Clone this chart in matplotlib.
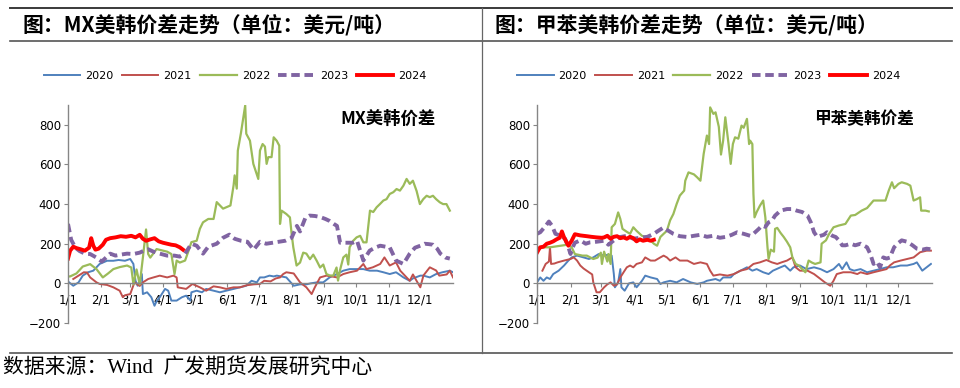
import matplotlib
matplotlib.use('Agg')
import matplotlib.pyplot as plt
import numpy as np
from matplotlib.lines import Line2D

W, H = 960, 388

YEARS = ['2020', '2021', '2022', '2023', '2024']
MONTH_DAYS = [0, 31, 59, 90, 120, 151, 181, 212, 243, 273, 304, 334]
MONTH_LABELS = ['1/1', '2/1', '3/1', '4/1', '5/1', '6/1', '7/1', '8/1', '9/1', '10/1', '11/1', '12/1']
Y_TICKS = [-200, 0, 200, 400, 600, 800]

# ---- MX (day of year, usd/t) ----
mx_2020 = [(0, 10), (1, 5), (5, -12), (10, 5), (14, 39), (19, 56), (24, 64), (30, 98), (37, 114), (43, 114),
           (48, 118), (54, 114), (59, 123), (62, 98), (64, 13), (66, -12), (70, 47), (71, -54), (75, -45), (79, -70),
           (82, -113), (84, -90), (87, -70), (92, -28), (95, -37), (98, -87), (103, -87), (108, -70), (112, -62),
           (116, -87), (117, -45), (122, -37), (127, -45), (131, -28), (138, -37), (144, -45), (150, -37), (157, -28),
           (163, -20), (169, -12), (174, 13), (179, 5), (182, 30), (186, 30), (191, 39), (195, 35), (198, 39),
           (207, 30), (214, -12), (220, -5), (226, -5), (230, 0), (236, 5), (242, 5), (248, 30), (255, 47), (261, 64),
           (267, 72), (274, 72), (280, 72), (286, 64), (293, 64), (299, 56), (305, 47), (311, 56), (318, 30),
           (324, 13), (327, 25), (334, 39), (337, 39), (343, 30), (349, 47), (355, 56), (362, 64), (365, 56)]
mx_2021 = [(5, 22), (10, 39), (15, 56), (18, 55), (21, 30), (27, 5), (30, -3), (37, -8), (43, -20), (49, -37),
           (52, -70), (54, -60), (59, -54), (63, 5), (68, -13), (71, 5), (76, 22), (81, 30), (87, 39), (94, 30),
           (100, 39), (103, 30), (104, -20), (112, -28), (118, -3), (125, -20), (131, -37), (138, -15), (144, -20),
           (150, -28), (157, -20), (163, -20), (169, -10), (176, -5), (182, -3), (186, 13), (192, 10), (197, 25),
           (201, 30), (204, 47), (207, 56), (214, 50), (220, 5), (226, -20), (231, -54), (234, -20), (239, 30),
           (245, 39), (250, 35), (255, 30), (261, 47), (267, 56), (274, 64), (280, 98), (283, 72), (289, 81),
           (296, 98), (300, 131), (305, 90), (311, 106), (315, 64), (321, 30), (324, 13), (327, 45), (334, -20),
           (337, 40), (343, 81), (349, 65), (352, 39), (359, 45), (362, 64), (365, 30)]
mx_2022 = [(0, 35), (2, 35), (8, 50), (14, 85), (21, 97), (27, 72), (33, 30), (38, 50), (43, 72), (49, 82),
           (56, 90), (60, 80), (62, -5), (65, 70), (68, -5), (71, 130), (74, 272), (76, 148), (78, 130), (84, 173),
           (94, 160), (98, 148), (101, 47), (103, 115), (106, 105), (111, 115), (114, 160), (117, 208), (122, 215),
           (125, 275), (128, 308), (133, 325), (138, 325), (141, 410), (147, 377), (154, 393), (157, 495), (158, 545),
           (160, 478), (161, 670), (164, 760), (168, 898), (169, 755), (172.5, 720), (175.7, 603), (180.4, 527),
           (182, 670), (184.5, 703), (186.7, 690), (188.3, 603), (189.9, 637), (193, 637), (195, 737), (197.8, 720),
           (200.3, 695), (201, 300), (202.5, 367), (207, 350), (210.4, 333), (212, 250), (213.6, 182), (216.7, 90),
           (220, 105), (223, 155), (226, 150), (229.4, 122), (232.5, 145), (235.7, 115), (239, 80), (242, 95),
           (245, 47), (248, 40), (251.5, 39), (254.6, 80), (256, 14), (257.8, 65), (261, 131), (264, 145),
           (265.7, 95), (267, 182), (270.4, 215), (273.6, 232), (277, 240), (280, 207), (283, 207), (286.3, 367),
           (289.4, 360), (292.6, 384), (295.7, 400), (299, 418), (302, 425), (305, 451), (308.4, 460), (311.5, 476),
           (314.7, 468), (318, 493), (321, 527), (324, 502), (327, 518), (330.5, 466), (333.6, 400), (336.8, 425),
           (340, 442), (343, 435), (346, 442), (349, 425), (352.5, 409), (355.6, 400), (358.8, 400), (362, 367)]
mx_2023 = [(0, 300), (3, 220), (7, 180), (11, 163), (16, 150), (21, 148), (27, 130), (32, 110), (36, 130), (40, 150),
           (45, 140), (50, 145), (56, 150), (62, 148), (68, 155), (72, 165), (76, 172), (81, 160), (87, 150), (94, 140),
           (101, 140), (106, 135), (111, 150), (117, 200), (122, 190), (128, 150), (133, 185), (141, 200), (147, 230),
           (153, 246), (158, 225), (164, 215), (170, 210), (176, 170), (182, 210), (188, 200), (194, 205), (200, 210),
           (206, 215), (212, 230), (217, 290), (220, 262), (225, 330), (229, 342), (234, 340), (239, 335), (244, 325),
           (248, 315), (252, 300), (255, 290), (258, 205), (264, 205), (270, 205), (274, 215), (280, 115), (286, 165),
           (291, 180), (296, 190), (301, 185), (305, 182), (311, 115), (318, 98), (324, 150), (329, 180), (334, 190),
           (338, 200), (342, 198), (346, 195), (350, 175), (353, 150), (358, 130), (362, 125)]
mx_2024 = [(0, 125), (2, 165), (5, 185), (8, 178), (12, 172), (16, 165), (20, 180), (22, 228), (24, 190), (26, 170),
           (29, 175), (33, 195), (36, 220), (40, 228), (45, 232), (50, 238), (55, 235), (60, 240), (64, 232), (68, 245),
           (71, 225), (74, 215), (78, 222), (82, 228), (86, 212), (90, 205), (94, 200), (98, 195), (102, 192),
           (106, 182), (109, 170)]

# ---- toluene ----
tol_2020 = [(1, 13), (3, 30), (6, 13), (9, 30), (12, 22), (15, 47), (20, 64), (25, 90), (29, 115), (32, 131),
            (37, 140), (43, 131), (48, 123), (52, 131), (57, 148), (62, 140), (66, 145), (69, 140), (71, 47), (72, -20),
            (75, 5), (77, 72), (78, -20), (81, -37), (85, 0), (89, 5), (92, -20), (97, 13), (100, 39), (105, 30),
            (111, 22), (114, -3), (117, 5), (123, 13), (129, 5), (135, 22), (142, 5), (148, -3), (154, 5), (157, 13),
            (165, 22), (169, 13), (172, 30), (179, 30), (182, 47), (188, 64), (194, 81), (199, 64), (203, 72),
            (209, 56), (214, 47), (218, 64), (225, 81), (229, 90), (234, 64), (237, 81), (243, 90), (249, 72),
            (256, 81), (262, 72), (268, 56), (274, 72), (279, 98), (282, 72), (286, 106), (289, 72), (293, 64),
            (299, 72), (305, 56), (311, 64), (317, 72), (323, 81), (329, 81), (336, 90), (342, 90), (348, 98),
            (351, 106), (356, 64), (360, 81), (364, 98)]
tol_2021 = [(5, 64), (8, 98), (11, 110), (12, 182), (13, 98), (16, 100), (19, 106), (25, 115), (31, 123), (34, 131),
            (37, 115), (40, 90), (43, 75), (48, 56), (51, 45), (52, 5), (55, -45), (58, -45), (62, -20), (65, -5),
            (68, 5), (71, -12), (74, -5), (77, 30), (80, 56), (83, 81), (86, 90), (89, 81), (92, 98), (97, 106),
            (100, 131), (105, 115), (109, 115), (114, 131), (117, 140), (120, 131), (123, 115), (128, 131), (132, 115),
            (139, 115), (145, 98), (151, 106), (157, 98), (160, 64), (163, 39), (169, 45), (176, 39), (182, 47),
            (188, 64), (194, 72), (200, 98), (206, 106), (212, 118), (217, 106), (222, 98), (226, 106), (231, 115),
            (236, 131), (239, 81), (243, 64), (250, 64), (256, 47), (262, 22), (266, 5), (271, -12), (274, 13),
            (277, 47), (283, 56), (290, 56), (296, 47), (299, 56), (305, 47), (311, 56), (317, 64), (323, 72),
            (326, 90), (330, 106), (336, 115), (342, 123), (348, 131), (354, 157), (360, 165), (364, 165)]
tol_2022 = [(0, 175), (3, 182), (12, 182), (22, 190), (28, 195), (32, 182), (35, 148), (42, 140), (46, 140), (52, 123),
            (56, 130), (59, 155), (60, 98), (62, 160), (65, 110), (66, 148), (68, 98), (69, 283), (72, 300), (75, 358),
            (77, 325), (79, 275), (83, 260), (86, 250), (89, 283), (92, 265), (97, 240), (100, 234), (105, 217),
            (108, 200), (111, 190), (114, 234), (117, 250), (120, 265), (123, 318), (126, 350), (129, 400), (132, 443),
            (136, 468), (137, 518), (140, 560), (145, 550), (148, 535), (151, 518), (154, 653), (157, 746), (159, 703),
            (160, 888), (163, 855), (165, 863), (168, 790), (170, 650), (172, 720), (174, 838), (177, 703), (179, 603),
            (181, 703), (183, 737), (186, 730), (189, 796), (191, 785), (194, 830), (196, 703), (197, 720), (199, 703),
            (200, 451), (201, 333), (203, 360), (206, 392), (209, 418), (211, 333), (213, 182), (214, 123), (216, 170),
            (219, 160), (220, 275), (222, 280), (225, 255), (228, 234), (231, 210), (234, 182), (236, 131), (239, 98),
            (242, 90), (245, 72), (248, 56), (251, 115), (254, 105), (257, 98), (262, 106), (263, 200), (267, 217),
            (270, 250), (274, 283), (279, 292), (285, 300), (290, 342), (294, 345), (300, 367), (305, 380), (311, 418),
            (317, 418), (322, 418), (325, 468), (328, 510), (330, 480), (334, 502), (337, 510), (342, 502), (345, 493),
            (348, 418), (351, 425), (354, 434), (355, 367), (359, 367), (362, 363)]
tol_2023 = [(0, 250), (3, 258), (8, 290), (11, 312), (14, 290), (17, 250), (22, 240), (26, 225), (29, 182), (31, 148),
            (32, 170), (35, 205), (40, 217), (45, 200), (49, 207), (55, 210), (62, 215), (66, 195), (71, 217), (77, 234),
            (83, 240), (89, 225), (95, 230), (102, 235), (108, 250), (112, 265), (117, 282), (120, 270), (126, 250),
            (132, 238), (139, 234), (145, 240), (151, 245), (157, 235), (163, 240), (169, 230), (175, 235), (180, 245),
            (185, 258), (191, 250), (197, 240), (200, 250), (205, 275), (208, 292), (211, 285), (214, 308), (217, 316),
            (220, 342), (225, 367), (231, 375), (236, 375), (240, 367), (245, 360), (250, 342), (253, 308), (256, 258),
            (259, 234), (262, 240), (265, 245), (268, 258), (273, 240), (276, 234), (279, 217), (282, 192), (285, 192),
            (290, 200), (294, 192), (299, 200), (305, 182), (308, 148), (311, 98), (314, 110), (317, 81), (320, 131),
            (323, 125), (326, 130), (330, 182), (333, 200), (337, 217), (342, 210), (347, 192), (351, 175), (356, 170),
            (360, 175), (364, 172)]
tol_2024 = [(0, 155), (2, 175), (3, 182), (6, 185), (9, 200), (12, 205), (15, 212), (18, 222), (21, 230), (23, 262),
            (25, 232), (28, 200), (29, 190), (32, 215), (35, 248), (40, 242), (46, 238), (50, 235), (55, 232), (60, 230),
            (62, 232), (65, 240), (68, 225), (71, 235), (74, 238), (77, 228), (80, 232), (83, 225), (86, 235), (89, 228),
            (92, 212), (95, 222), (98, 215), (102, 220), (105, 215), (108, 220)]

STYLES = {
    '2020': dict(color='#4F81BD', lw=1.4),
    '2021': dict(color='#C0504D', lw=1.4),
    '2022': dict(color='#9BBB59', lw=1.6),
    '2023': dict(color='#8064A2', lw=2.8, ls=(0, (2.2, 1.2))),
    '2024': dict(color='#FF0000', lw=2.8),
}

CJK = ['Noto Sans CJK SC', 'DejaVu Sans']


def fx(px):
    return px / W


def fy(py):
    return 1 - py / H


def draw_panel(ax, series, label, label_size):
    for year, pts in zip(YEARS, series):
        arr = np.array(pts, dtype=float)
        ax.plot(arr[:, 0], arr[:, 1], label=year, solid_joinstyle='round', **STYLES[year])
    ax.set_xlim(0, 365)
    ax.set_ylim(-200, 900)
    ax.set_xticks(MONTH_DAYS)
    ax.set_xticklabels(MONTH_LABELS)
    ax.set_yticks(Y_TICKS)
    for side in ['top', 'right']:
        ax.spines[side].set_visible(False)
    ax.spines['bottom'].set_position(('data', 0))
    for side in ['left', 'bottom']:
        ax.spines[side].set_color('#868686')
        ax.spines[side].set_linewidth(1.0)
    ax.tick_params(axis='both', colors='#868686', labelcolor='black', labelsize=8.5, length=3, width=0.8)
    ax.tick_params(axis='x', pad=4)
    ax.tick_params(axis='y', pad=2)
    ax.patch.set_alpha(0)
    ax.legend(loc='center', bbox_to_anchor=(0.434, 1.135), ncol=5, frameon=False, fontsize=8,
              handlelength=3.3, handletextpad=0.45, columnspacing=0.75, borderaxespad=0)
    ax.text(0.955, 0.935, label, transform=ax.transAxes, ha='right', va='center',
            fontsize=label_size, fontweight='bold', family=CJK)


fig = plt.figure(figsize=(W / 100, H / 100), dpi=100)

ax1 = fig.add_axes([fx(68), fy(323), fx(453 - 68), (323 - 105) / H])
draw_panel(ax1, [mx_2020, mx_2021, mx_2022, mx_2023, mx_2024], 'MX美韩价差', 12.5)
ax2 = fig.add_axes([fx(537), fy(323), fx(932 - 537), (323 - 105) / H])
draw_panel(ax2, [tol_2020, tol_2021, tol_2022, tol_2023, tol_2024], '甲苯美韩价差', 12)

# frame lines
fig.add_artist(Line2D([fx(10), fx(952)], [fy(7.5), fy(7.5)], color='#3a3a3a', lw=1.4))
fig.add_artist(Line2D([fx(10), fx(952)], [fy(40.5), fy(40.5)], color='#555555', lw=1.2))
fig.add_artist(Line2D([fx(10), fx(952)], [fy(352.5), fy(352.5)], color='#555555', lw=1.2))
fig.add_artist(Line2D([fx(481.5), fx(481.5)], [fy(7.5), fy(352.5)], color='#666666', lw=0.9))

fig.text(fx(22), fy(25), '图：MX美韩价差走势（单位：美元/吨）', ha='left', va='center',
         fontsize=15, fontweight='bold', family=CJK)
fig.text(fx(495), fy(25), '图：甲苯美韩价差走势（单位：美元/吨）', ha='left', va='center',
         fontsize=15, fontweight='bold', family=CJK)
fig.text(fx(3), fy(369), '数据来源：Wind  广发期货发展研究中心', ha='left', va='center',
         fontsize=15, family=['Liberation Serif', 'Noto Sans CJK SC'])

fig.savefig('out.png', dpi=100)
